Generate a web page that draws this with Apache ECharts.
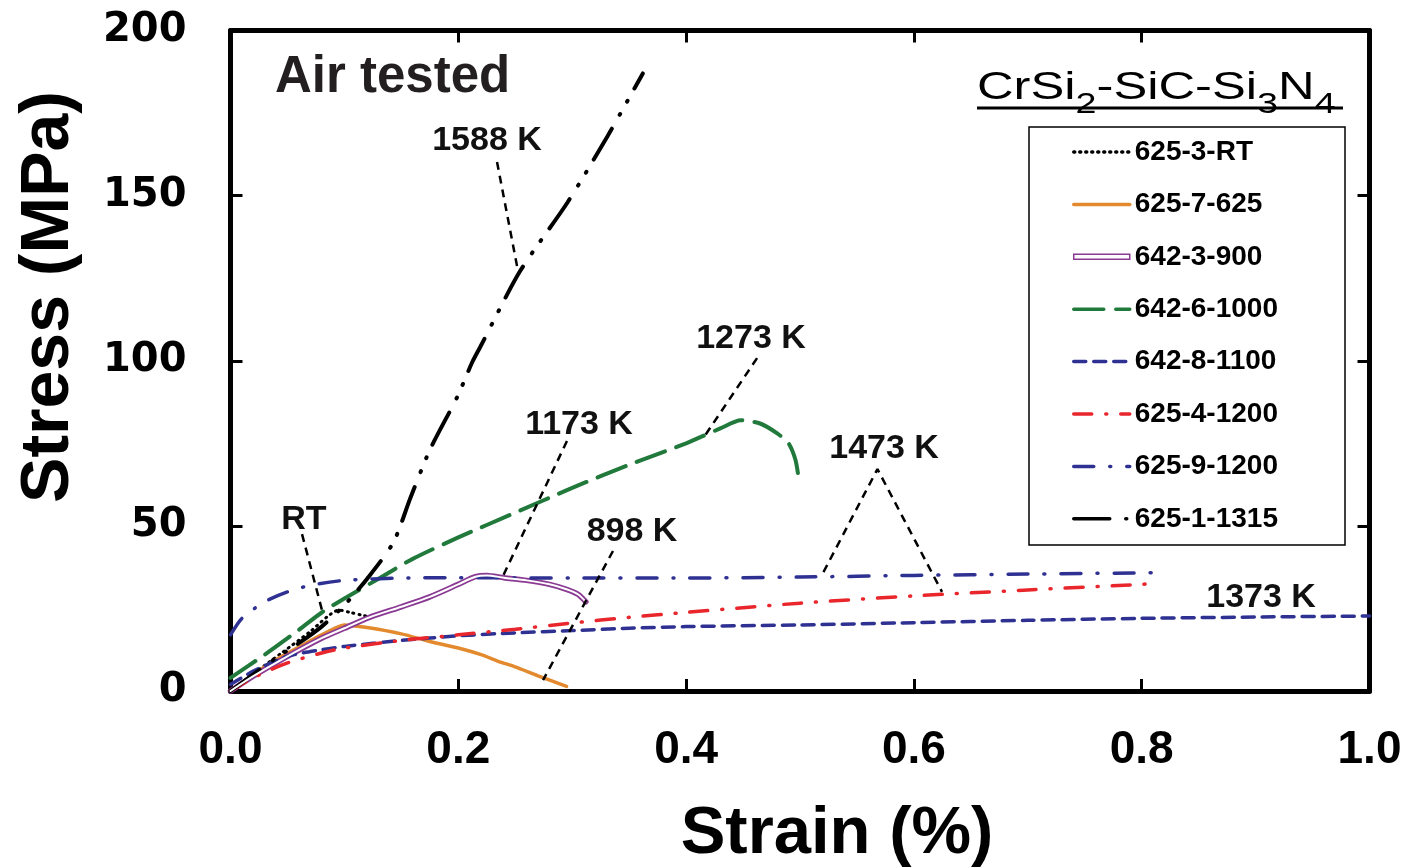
<!DOCTYPE html>
<html>
<head>
<meta charset="utf-8">
<script src="https://cdn.jsdelivr.net/npm/echarts@6/dist/echarts.min.js"></script>
<style>html,body{margin:0;padding:0;background:#fff;}#c{width:1412px;height:868px;}</style>
</head>
<body>
<div id="c"></div>
<script>
// ---- data (strain %, stress MPa) ----
const xTicks = [0.0, 0.2, 0.4, 0.6, 0.8, 1.0];
const yTicks = [0, 50, 100, 150, 200];
const seriesNames = ['625-3-RT','625-7-625','642-3-900','642-6-1000','642-8-1100','625-4-1200','625-9-1200','625-1-1315'];

const d625_3_RT = [[0,0],[0.02,5.2],[0.046,11.8],[0.07,18],[0.085,22.5],[0.095,24.5],[0.105,23.8],[0.115,23],[0.12,22.6]];
const d625_7_625 = [[0,0],[0.02,5],[0.04,9.5],[0.06,13.3],[0.08,17],[0.095,19.5],[0.1,20],[0.12,19.2],[0.15,17.3],[0.175,15],[0.2,13],[0.22,11],[0.235,9],[0.25,7.3],[0.27,4.6],[0.295,1.4]];
const d642_3_900 = [[0,0],[0.02,4.5],[0.05,10.5],[0.08,16],[0.1,19],[0.122,22.3],[0.15,25.5],[0.175,28.5],[0.2,32.3],[0.215,34.6],[0.225,35],[0.24,34.3],[0.26,33.5],[0.28,32.3],[0.295,30.8],[0.305,29.3],[0.312,27]];
const d642_6_1000 = [[0,4],[0.03,11],[0.06,18.5],[0.081,24],[0.1,28],[0.13,34],[0.16,40],[0.2,46.5],[0.25,54],[0.3,61.5],[0.35,68.5],[0.4,75],[0.43,79.5],[0.448,82],[0.465,81],[0.48,78],[0.49,75],[0.496,70],[0.499,64]];
const d642_8_1100 = [[0,2],[0.02,6],[0.05,10.5],[0.08,12.5],[0.1,13.5],[0.15,15.3],[0.2,16.7],[0.25,17.6],[0.3,18.3],[0.35,19],[0.4,19.5],[0.5,20],[0.6,20.7],[0.7,21.4],[0.8,22],[0.9,22.4],[1.0,22.7]];
const d625_4_1200 = [[0,0],[0.02,4],[0.05,8.5],[0.08,11.5],[0.1,13],[0.15,15.3],[0.2,17],[0.25,18.7],[0.3,20.6],[0.35,22.3],[0.4,23.8],[0.5,26.6],[0.6,28.8],[0.7,30.6],[0.8,32.3],[0.812,32.6]];
const d625_9_1200 = [[0,17],[0.01,22],[0.03,27],[0.05,30],[0.07,32],[0.1,33.5],[0.15,34.2],[0.2,34.3],[0.3,34.2],[0.4,34.2],[0.5,34.5],[0.6,35],[0.7,35.4],[0.81,35.8]];
const d625_1_1315 = [[0,0],[0.02,5],[0.04,10],[0.06,14.5],[0.08,19.5],[0.1,26],[0.12,34],[0.143,45],[0.158,58.5],[0.175,73],[0.199,89],[0.212,99.4],[0.219,104],[0.254,127],[0.296,148],[0.331,168],[0.362,187]];

// annotation labels [x, y, text]
const annoLabels = [[0.2252,166.7,'1588 K'],[0.4570,106.7,'1273 K'],[0.3060,80.7,'1173 K'],[0.3525,48.3,'898 K'],[0.0645,51.8,'RT'],[0.5738,73.3,'1473 K'],[0.9048,28.3,'1373 K']];
// leader lines
const lead1588 = [[0.2340,160.2],[0.2524,127.2]];
const lead1273 = [[0.4623,100.8],[0.4157,76.9]];
const lead1173 = [[0.2954,75.7],[0.2384,34.2]];
const lead898 = [[0.3358,42.4],[0.2744,3.3]];
const leadRT = [[0.0628,47.5],[0.0803,24.5]];
const lead1473 = [[0.5206,36.0],[0.5680,67.2],[0.6247,30.0]];

const C = {orange:'#e38a2e', purple:'#8b3a94', green:'#217a3c', navy:'#2e3192', red:'#e8262c', black:'#000'};

function curve(name, data, color, width, type, extra) {
  return Object.assign({
    name: name, type: 'line', data: data, symbol: 'none', showSymbol: false, smooth: 0.25,
    silent: true, z: 3,
    lineStyle: {color: color, width: width, type: type, cap: 'round'},
    itemStyle: {color: color}
  }, extra || {});
}
function leader(data) {
  return {type:'line', data:data, symbol:'none', silent:true, z:4,
    lineStyle:{color:'#000', width:2.5, type:[8,6]}};
}

const chart = echarts.init(document.getElementById('c'), null, {renderer:'canvas'});
const axisCommon = {
  axisLine:{show:true, onZero:false, lineStyle:{color:'#000', width:5}},
  axisTick:{show:true, inside:true, length:12, lineStyle:{color:'#000', width:3}},
  splitLine:{show:false}
};
chart.setOption({
  animation:false,
  backgroundColor:'#fff',
  grid:{left:230.5, right:42.5, top:30.5, bottom:177},
  xAxis:[
    Object.assign({type:'value', min:0, max:1, interval:0.2, position:'bottom',
      axisLabel:{margin:36, color:'#000', fontFamily:'Liberation Sans, Arial', fontWeight:'bold', fontSize:46,
        formatter:v=>v.toFixed(1)}}, axisCommon),
    Object.assign({type:'value', min:0, max:1, interval:0.2, position:'top', axisLabel:{show:false}}, axisCommon)
  ],
  yAxis:[
    Object.assign({type:'value', min:0, max:200, interval:50, position:'left',
      axisLabel:{margin:44, color:'#000', fontFamily:'DejaVu Sans', fontWeight:'bold', fontSize:40}}, axisCommon),
    Object.assign({type:'value', min:0, max:200, interval:50, position:'right', axisLabel:{show:false}}, axisCommon)
  ],
  legend:{
    orient:'vertical', left:1072, top:138, padding:0, itemGap:24.4, itemWidth:56, itemHeight:14,
    selectedMode:false,
    itemStyle:{opacity:0},
    lineStyle:{width:3.5},
    textStyle:{color:'#000', fontFamily:'Liberation Sans, Arial', fontWeight:'bold', fontSize:28},
    data: seriesNames.map(n => n === '642-3-900'
      ? {name:n, icon:'path://M0,0H56V5H0Z', itemStyle:{color:'#fff', borderColor:C.purple, borderWidth:1.5, opacity:1}}
      : {name:n})
  },
  graphic:[
    {type:'rect', shape:{x:1029, y:127, width:316, height:418}, style:{fill:'none', stroke:'#000', lineWidth:1.5}, z:5, silent:true},
    {type:'text', x:275, y:78, style:{text:'Air tested', fill:'#231f20', font:'bold 51px "Liberation Sans", Arial', verticalAlign:'middle'}, z:5},
    {type:'text', x:977, y:94, scaleX:1.30, style:{
      text:'{n|CrSi}{s|2}{n|-SiC-Si}{s|3}{n|N}{s|4}', fill:'#000', verticalAlign:'middle',
      font:'38px "Liberation Sans", Arial',
      rich:{ n:{fontSize:39, fontFamily:'Liberation Sans', verticalAlign:'bottom', padding:[0,0,12,0], fill:'#000'},
             s:{fontSize:29, fontFamily:'Liberation Sans', verticalAlign:'bottom', fill:'#000'} }
    }, z:5},
    {type:'line', shape:{x1:977, y1:108, x2:1343, y2:108}, style:{stroke:'#000', lineWidth:3}, z:5},
    {type:'text', x:837, y:835, style:{text:'Strain (%)', fill:'#000', font:'bold 67px "Liberation Sans", Arial', align:'center', verticalAlign:'middle'}, z:5},
    {type:'text', x:49, y:297, rotation:Math.PI/2, style:{text:'Stress (MPa)', fill:'#000', font:'bold 68px "Liberation Sans", Arial', align:'center', verticalAlign:'middle'}, z:5}
  ],
  series:[
    curve('625-3-RT', d625_3_RT, C.black, 3, [1,5]),
    curve('625-7-625', d625_7_625, C.orange, 3.5, 'solid'),
    curve('642-3-900', d642_3_900, C.purple, 5.5, 'solid'),
    curve('642-3-900-inner', d642_3_900, '#fff', 2, 'solid', {z:3.5}),
    curve('642-6-1000', d642_6_1000, C.green, 4, [30,12]),
    curve('642-8-1100', d642_8_1100, C.navy, 3.5, [12,8]),
    curve('625-4-1200', d625_4_1200, C.red, 3.5, [18,14,1,14]),
    curve('625-9-1200', d625_9_1200, C.navy, 3.5, [20,16,1,16]),
    curve('625-1-1315', d625_1_1315, C.black, 4, [36,16,1,14,1,14]),
    leader(lead1588), leader(lead1273), leader(lead1173), leader(lead898), leader(leadRT), leader(lead1473),
    {type:'scatter', data:annoLabels, symbolSize:1, silent:true, z:6,
      itemStyle:{color:'rgba(0,0,0,0)', opacity:1},
      label:{show:true, position:'inside', formatter:p=>p.value[2], color:'#111', opacity:1,
        fontFamily:'Liberation Sans, Arial', fontWeight:'bold', fontSize:34}}
  ]
});
</script>
</body>
</html>
